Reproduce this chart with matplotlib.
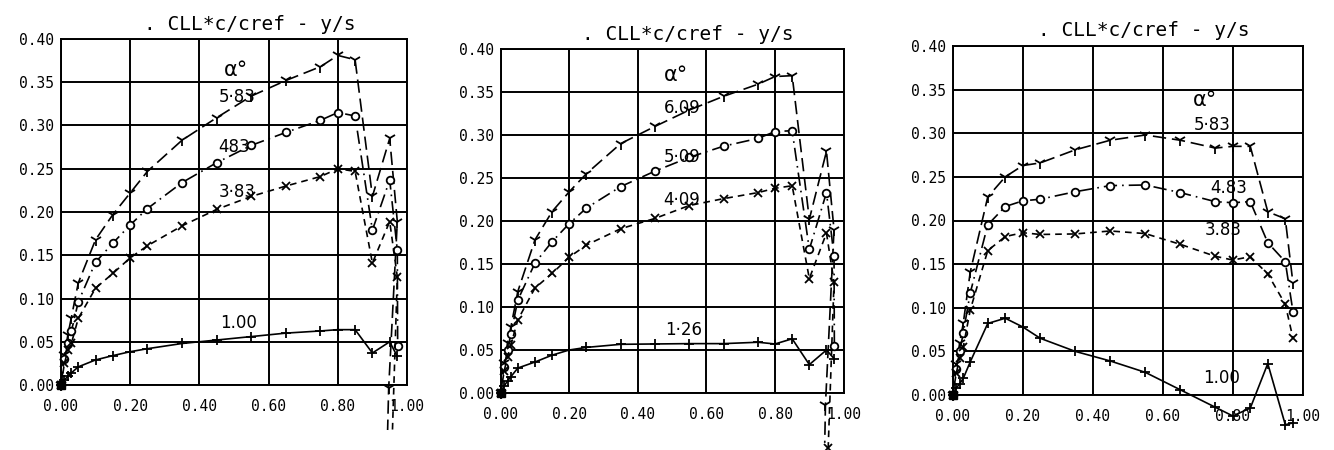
import matplotlib
matplotlib.use("Agg")
import matplotlib.pyplot as plt

# spanwise stations y/s (shared by all runs)
stations = [0.0, 0.01, 0.02, 0.03, 0.05, 0.10, 0.15, 0.20, 0.25, 0.35, 0.45,
            0.55, 0.65, 0.75, 0.80, 0.85, 0.90, 0.95, 0.972]

# ---- panel 1 ----
p1_labels = ["5·83", "483", "3·83", "1.00"]
p1_a = [0, 0.035, 0.058, 0.078, 0.118, 0.168, 0.197, 0.222, 0.247, 0.283, 0.309,
        0.334, 0.352, 0.368, 0.381, 0.376, 0.218, 0.285, 0.189]
p1_b = [0, 0.030, 0.048, 0.062, 0.096, 0.142, 0.164, 0.185, 0.204, 0.234, 0.257,
        0.277, 0.292, 0.306, 0.315, 0.311, 0.179, 0.237, 0.156]
p1_c = [0, 0.025, 0.040, 0.048, 0.077, 0.112, 0.129, 0.147, 0.161, 0.184, 0.203,
        0.218, 0.230, 0.241, 0.250, 0.247, 0.141, 0.189, 0.125]
p1_d = [0, 0.006, 0.010, 0.014, 0.021, 0.029, 0.034, 0.0385, 0.042, 0.048, 0.052,
        0.056, 0.060, 0.0625, 0.064, 0.064, 0.037, 0.050, 0.033]
# tip values (run off below the frame)
p1_tip_x = [[0.947, 0.944], [0.973], [0.958], []]
p1_tip_y = [[-0.004, -0.052], [0.045], [-0.052], []]
p1_tip_marked = [[True, False], [True], [False], []]

# ---- panel 2 ----
p2_labels = ["6.09", "5·09", "4·09", "1·26"]
p2_a = [0, 0.035, 0.058, 0.077, 0.118, 0.178, 0.211, 0.234, 0.255, 0.290, 0.310,
        0.329, 0.345, 0.359, 0.368, 0.369, 0.202, 0.281, 0.190]
p2_b = [0, 0.030, 0.050, 0.069, 0.108, 0.151, 0.176, 0.197, 0.215, 0.240, 0.258,
        0.274, 0.287, 0.296, 0.304, 0.305, 0.167, 0.233, 0.159]
p2_c = [0, 0.025, 0.042, 0.056, 0.085, 0.122, 0.139, 0.158, 0.172, 0.191, 0.203,
        0.218, 0.226, 0.233, 0.238, 0.241, 0.133, 0.186, 0.129]
p2_d = [0, 0.008, 0.014, 0.019, 0.029, 0.036, 0.044, 0.050, 0.053, 0.0566, 0.057,
        0.0574, 0.0574, 0.059, 0.057, 0.063, 0.033, 0.050, 0.040]
p2_tip_x = [[0.947, 0.945], [0.973], [0.955], []]
p2_tip_y = [[-0.014, -0.058], [0.055], [-0.064], []]
p2_tip_marked = [[True, False], [True], [True], []]

# ---- panel 3 ----
p3_labels = ["5·83", "4.83", "3.83", "1.00"]
p3_a = [0, 0.035, 0.060, 0.082, 0.141, 0.227, 0.250, 0.263, 0.266, 0.281, 0.292,
        0.298, 0.292, 0.283, 0.285, 0.285, 0.210, 0.202, 0.128]
p3_b = [0, 0.030, 0.050, 0.071, 0.117, 0.195, 0.216, 0.2225, 0.2244, 0.233, 0.240,
        0.2407, 0.232, 0.2216, 0.2204, 0.2216, 0.1746, 0.1528, 0.0955]
p3_c = [0, 0.025, 0.042, 0.055, 0.0975, 0.1655, 0.1816, 0.186, 0.184, 0.1846, 0.188,
        0.185, 0.1727, 0.159, 0.1547, 0.1585, 0.1387, 0.104, 0.065]
p3_d = [0, 0.008, 0.013, 0.019, 0.038, 0.082, 0.088, 0.078, 0.065, 0.050, 0.039,
        0.026, 0.006, -0.014, -0.024, -0.015, 0.036, -0.034, -0.032]
p3_tip_x = [[], [], [], []]
p3_tip_y = [[], [], [], []]
p3_tip_marked = [[], [], [], []]

xticks = [0.0, 0.2, 0.4, 0.6, 0.8, 1.0]
yticks = [0.0, 0.05, 0.10, 0.15, 0.20, 0.25, 0.30, 0.35, 0.40]

# styles for the four runs (top to bottom)
markers = ['1', 'o', 'x', '+']
msizes = [9, 5.5, 6, 7]
lstyles = [(0, (8, 3.5)), (0, (8, 3, 1, 3)), (0, (4, 3)), '-']

panels = [
    dict(rect=[0.0457, 0.1444, 0.2594, 0.769],
         series=[p1_a, p1_b, p1_c, p1_d], tx=p1_tip_x, ty=p1_tip_y, tm=p1_tip_marked,
         labels=p1_labels, alpha_pos=(0.47, 0.364),
         label_pos=[(0.455, 0.333), (0.455, 0.275), (0.455, 0.223), (0.46, 0.072)]),
    dict(rect=[0.3753, 0.1267, 0.2571, 0.7644],
         series=[p2_a, p2_b, p2_c, p2_d], tx=p2_tip_x, ty=p2_tip_y, tm=p2_tip_marked,
         labels=p2_labels, alpha_pos=(0.475, 0.37),
         label_pos=[(0.475, 0.331), (0.475, 0.274), (0.475, 0.224), (0.48, 0.073)]),
    dict(rect=[0.7142, 0.1222, 0.2624, 0.7756],
         series=[p3_a, p3_b, p3_c, p3_d], tx=p3_tip_x, ty=p3_tip_y, tm=p3_tip_marked,
         labels=p3_labels, alpha_pos=(0.685, 0.338),
         label_pos=[(0.688, 0.31), (0.735, 0.237), (0.72, 0.189), (0.715, 0.02)]),
]

fig = plt.figure(figsize=(13.34, 4.5), dpi=100)
fig.patch.set_facecolor('white')

for p in panels:
    ax = fig.add_axes(p['rect'])
    ax.set_xlim(0, 1.0)
    ax.set_ylim(0, 0.40)
    ax.set_xticks(xticks)
    ax.set_yticks(yticks)
    ax.set_xticklabels([f"{v:.2f}" for v in xticks], family='DejaVu Sans Mono', fontsize=10.5)
    ax.set_yticklabels([f"{v:.2f}" for v in yticks], family='DejaVu Sans Mono', fontsize=10.5)
    ax.tick_params(axis='both', length=0)
    ax.tick_params(axis='x', pad=10)
    ax.tick_params(axis='y', pad=5)
    ax.grid(True, color='black', linewidth=1.4)
    ax.set_axisbelow(True)
    for s in ax.spines.values():
        s.set_linewidth(1.4)

    for i, ys in enumerate(p['series']):
        xs = stations + p['tx'][i]
        yy = ys + p['ty'][i]
        marked = [True] * len(stations) + p['tm'][i]
        every = [k for k, m in enumerate(marked) if m]
        ax.plot(xs, yy, color='black', linewidth=1.2, linestyle=lstyles[i],
                marker=markers[i], markersize=msizes[i], markeredgewidth=1.3,
                markevery=every, markerfacecolor='white', markeredgecolor='black',
                clip_on=False, zorder=3)
    # common root point
    ax.plot(stations[:1], p['series'][3][:1], marker='s', color='black', markersize=6,
            clip_on=False, zorder=4)

    ax.text(0.546, 1.043, ". CLL*c/cref - y/s", transform=ax.transAxes, ha='center',
            va='center', family='DejaVu Sans Mono', fontsize=14)

    ax.text(*p['alpha_pos'], "α°", fontsize=15, ha='left', va='center', zorder=5)
    for (lx, ly), lab in zip(p['label_pos'], p['labels']):
        ax.text(lx, ly, lab, fontsize=12, ha='left', va='center', zorder=5)

fig.savefig('out.png', dpi=100, facecolor='white')
